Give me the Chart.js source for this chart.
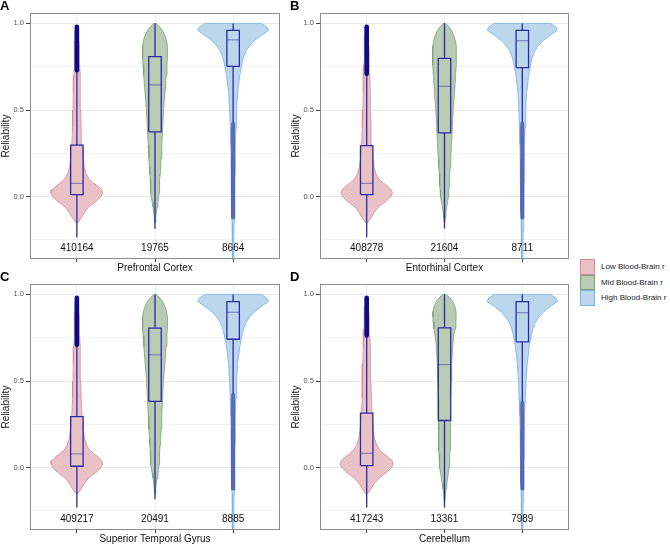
<!DOCTYPE html>
<html>
<head>
<meta charset="utf-8">
<script src="https://cdn.jsdelivr.net/npm/chart.js@4.4.0/dist/chart.umd.min.js"></script>
<style>
  body { margin: 0; background: #fff; width: 670px; height: 547px; position: relative; overflow: hidden; font-family: "Liberation Sans", Arial, sans-serif; }
  canvas { position: absolute; }
  #legend { position: absolute; left: 580px; top: 259px; width: 90px; }
  .key { display: flex; align-items: center; height: 15.5px; white-space: nowrap; }
  .swatch { flex: none; width: 15px; height: 15.5px; box-sizing: border-box; border: 1px solid; margin-right: 6px; }
  .key span { font-size: 8px; color: #222; }
</style>
</head>
<body>
<canvas id="p0" width="282" height="275" style="left:0;top:0"></canvas>
<canvas id="p1" width="281" height="275" style="left:290px;top:0"></canvas>
<canvas id="p2" width="282" height="275" style="left:0;top:271px"></canvas>
<canvas id="p3" width="281" height="275" style="left:290px;top:271px"></canvas>
<div id="legend"></div>
<script>
// panels: A prefrontal, B entorhinal, C superior temporal, D cerebellum
const panelLetters = ["A", "B", "C", "D"];
const regions = ["Prefrontal Cortex", "Entorhinal Cortex", "Superior Temporal Gyrus", "Cerebellum"];
const groups = ["Low Blood-Brain r", "Mid Blood-Brain r", "High Blood-Brain r"];

// number of probes per group (low, mid, high), one row per panel
const counts = [
  [410164, 19765, 8664],
  [408278, 21604, 8711],
  [409217, 20491, 8885],
  [417243, 13361, 7989]
];

// boxplot stats, one row per panel, (low, mid, high)
const q1 = [[0.012, 0.374, 0.752], [0.012, 0.368, 0.745], [0.008, 0.382, 0.741], [0.012, 0.272, 0.726]];
const median = [[0.077, 0.645, 0.905], [0.077, 0.637, 0.900], [0.079, 0.651, 0.897], [0.083, 0.595, 0.894]];
const q3 = [[0.297, 0.808, 0.960], [0.294, 0.798, 0.960], [0.295, 0.805, 0.958], [0.315, 0.807, 0.958]];
const whiskerLow = [[-0.235, -0.186, 0.43], [-0.235, -0.184, 0.43], [-0.23, -0.183, 0.43], [-0.23, -0.23, 0.38]];
const whiskerHigh = [[0.73, 1.0, 1.0], [0.71, 1.0, 1.0], [0.71, 1.0, 1.0], [0.763, 1.0, 1.0]];
const outlierFrom = [[0.73, null, -0.12], [0.71, null, -0.12], [0.71, null, -0.12], [0.763, null, -0.12]];
const outlierTo = [[0.98, null, 0.42], [0.98, null, 0.42], [0.98, null, 0.42], [0.98, null, 0.373]];

// violin half-widths (in category units) at these reliability levels
const levels = [-0.40, -0.30, -0.20, -0.15, -0.12, -0.09, -0.06, -0.03, 0.00, 0.02, 0.04, 0.06, 0.08, 0.10, 0.13, 0.17,
  0.22, 0.30, 0.40, 0.50, 0.60, 0.70, 0.76, 0.80, 0.84, 0.87, 0.90, 0.93, 0.96, 0.98, 1.00];

const violinLow = [
  [null, null, null, 0.015, 0.06, 0.10, 0.15, 0.24, 0.31, 0.33, 0.32, 0.27, 0.21, 0.16, 0.12, 0.095, 0.08, 0.065, 0.055, 0.05, 0.045, 0.04, 0.035, 0.032, 0.03, 0.028, 0.025, 0.022, 0.018, 0.01, null],
  [null, null, null, 0.015, 0.06, 0.10, 0.15, 0.24, 0.31, 0.33, 0.315, 0.27, 0.21, 0.16, 0.12, 0.095, 0.08, 0.066, 0.056, 0.05, 0.046, 0.04, 0.036, 0.033, 0.03, 0.028, 0.025, 0.022, 0.018, 0.01, null],
  [null, null, null, 0.015, 0.06, 0.10, 0.15, 0.24, 0.31, 0.33, 0.32, 0.28, 0.22, 0.165, 0.125, 0.098, 0.082, 0.066, 0.055, 0.05, 0.045, 0.04, 0.035, 0.032, 0.03, 0.028, 0.025, 0.022, 0.018, 0.01, null],
  [null, null, null, 0.015, 0.06, 0.10, 0.16, 0.25, 0.32, 0.34, 0.33, 0.28, 0.22, 0.17, 0.13, 0.10, 0.085, 0.07, 0.06, 0.055, 0.05, 0.045, 0.04, 0.036, 0.033, 0.03, 0.027, 0.023, 0.019, 0.01, null]
];
const violinMid = [
  [null, null, null, 0.005, 0.01, 0.018, 0.026, 0.038, 0.048, 0.052, 0.055, 0.058, 0.06, 0.062, 0.066, 0.072, 0.078, 0.087, 0.098, 0.11, 0.128, 0.145, 0.153, 0.158, 0.16, 0.158, 0.148, 0.128, 0.095, 0.06, 0.015],
  [null, null, null, 0.005, 0.01, 0.018, 0.027, 0.04, 0.05, 0.054, 0.057, 0.06, 0.062, 0.064, 0.068, 0.074, 0.08, 0.089, 0.10, 0.112, 0.128, 0.143, 0.15, 0.153, 0.153, 0.15, 0.14, 0.12, 0.09, 0.058, 0.015],
  [null, null, null, 0.005, 0.01, 0.018, 0.026, 0.038, 0.048, 0.052, 0.055, 0.058, 0.06, 0.062, 0.066, 0.072, 0.078, 0.086, 0.097, 0.108, 0.126, 0.143, 0.152, 0.157, 0.16, 0.158, 0.148, 0.128, 0.095, 0.06, 0.015],
  [null, null, 0.004, 0.012, 0.02, 0.03, 0.04, 0.05, 0.058, 0.062, 0.065, 0.068, 0.07, 0.072, 0.074, 0.075, 0.076, 0.078, 0.082, 0.086, 0.092, 0.105, 0.12, 0.135, 0.146, 0.15, 0.148, 0.135, 0.105, 0.07, 0.02]
];
const violinHigh = [
  [0.006, 0.008, 0.011, 0.013, 0.015, 0.017, 0.018, 0.019, 0.02, 0.02, 0.021, 0.021, 0.022, 0.023, 0.024, 0.025, 0.027, 0.03, 0.037, 0.045, 0.058, 0.085, 0.11, 0.13, 0.165, 0.21, 0.27, 0.36, 0.455, 0.43, 0.36],
  [0.006, 0.008, 0.011, 0.013, 0.015, 0.017, 0.018, 0.019, 0.02, 0.02, 0.021, 0.021, 0.022, 0.023, 0.024, 0.025, 0.027, 0.03, 0.036, 0.044, 0.056, 0.082, 0.106, 0.126, 0.16, 0.205, 0.265, 0.355, 0.45, 0.43, 0.36],
  [0.006, 0.008, 0.011, 0.013, 0.015, 0.017, 0.018, 0.019, 0.02, 0.02, 0.021, 0.021, 0.022, 0.023, 0.024, 0.025, 0.027, 0.03, 0.037, 0.045, 0.058, 0.086, 0.112, 0.132, 0.168, 0.212, 0.272, 0.36, 0.455, 0.43, 0.36],
  [0.006, 0.008, 0.011, 0.013, 0.015, 0.017, 0.018, 0.019, 0.02, 0.02, 0.021, 0.022, 0.022, 0.023, 0.024, 0.026, 0.028, 0.032, 0.04, 0.05, 0.064, 0.09, 0.115, 0.135, 0.17, 0.215, 0.275, 0.36, 0.455, 0.43, 0.36]
];
const violinWidths = [violinLow, violinMid, violinHigh];

const yTicks = [-0.25, 0, 0.25, 0.5, 0.75, 1];
const yLabelled = [0, 0.5, 1];
const countY = -0.3;

const fillColors = ["#e8c2c7", "#b8ccb4", "#bcd7ec"];
const edgeColors = ["#d58b95", "#79a275", "#76b3e2"];
const boxColor = "#2b2ba6";
const boxHalf = 0.08;

Chart.defaults.font.family = '"Liberation Sans", Arial, sans-serif';

const panelFrame = {
  id: "panelFrame",
  afterDatasetsDraw(chart) {
    const { ctx, chartArea: a } = chart;
    ctx.save();
    ctx.strokeStyle = "#8c8c8c";
    ctx.lineWidth = 1;
    ctx.strokeRect(Math.round(a.left) + 0.5, Math.round(a.top) + 0.5, Math.round(a.right - a.left) - 1, Math.round(a.bottom - a.top) - 1);
    ctx.restore();
  }
};

const countLabels = {
  id: "countLabels",
  afterDatasetsDraw(chart, args, opts) {
    const { ctx, scales: { x, y } } = chart;
    ctx.save();
    ctx.font = '10px "Liberation Sans", Arial, sans-serif';
    ctx.fillStyle = "#111";
    ctx.textAlign = "center";
    ctx.textBaseline = "middle";
    opts.values.forEach((v, i) => ctx.fillText(String(v), x.getPixelForValue(i + 1), y.getPixelForValue(countY)));
    ctx.restore();
  }
};

function line(data, color, width, order, extra) {
  return Object.assign({ data: data, borderColor: color, borderWidth: width, fill: false, pointRadius: 0, order: order }, extra || {});
}

function makePanel(p) {
  const datasets = [];
  for (let g = 0; g < 3; g++) {
    const c = g + 1;
    const w = violinWidths[g][p];
    const right = [], left = [];
    levels.forEach((lv, i) => {
      if (w[i] === null) return;
      right.push({ x: c + w[i], y: lv });
      left.unshift({ x: c - w[i], y: lv });
    });
    datasets.push(line(right.concat(left, [right[0]]), edgeColors[g], 0.8, 6,
      { fill: "shape", backgroundColor: fillColors[g] }));

    datasets.push(line([{ x: c, y: whiskerLow[p][g] }, { x: c, y: q1[p][g] }], boxColor, 1.3, 4));
    datasets.push(line([{ x: c, y: q3[p][g] }, { x: c, y: whiskerHigh[p][g] }], boxColor, 1.3, 4));
    datasets.push(line([
      { x: c - boxHalf, y: q1[p][g] }, { x: c + boxHalf, y: q1[p][g] },
      { x: c + boxHalf, y: q3[p][g] }, { x: c - boxHalf, y: q3[p][g] },
      { x: c - boxHalf, y: q1[p][g] }
    ], boxColor, 1.3, 3));
    datasets.push(line([{ x: c - boxHalf, y: median[p][g] }, { x: c + boxHalf, y: median[p][g] }], "#5a5aaa", 0.8, 3));

    if (outlierFrom[p][g] !== null) {
      const dense = g === 0;
      datasets.push(line([{ x: c, y: outlierFrom[p][g] }, { x: c, y: outlierTo[p][g] }],
        dense ? "#0c0c86" : "rgba(32,32,150,0.6)", dense ? 4.6 : 4, 2, { borderCapStyle: "round" }));
    }
  }

  new Chart(document.getElementById("p" + p), {
    type: "line",
    data: { datasets: datasets },
    plugins: [panelFrame, countLabels],
    options: {
      responsive: false,
      animation: false,
      events: [],
      layout: { padding: { left: 0, right: 2, top: 0, bottom: 0 } },
      plugins: {
        legend: { display: false },
        tooltip: { enabled: false },
        title: {
          display: true, text: panelLetters[p], align: "start", color: "#000",
          font: { size: 13, weight: "bold", lineHeight: 1.0 }, padding: { top: 0, bottom: 0 }
        },
        countLabels: { values: counts[p] }
      },
      scales: {
        x: {
          type: "linear", min: 0.4, max: 3.6,
          afterBuildTicks: s => { s.ticks = [1, 2, 3].map(v => ({ value: v })); },
          afterFit: s => { s.height = 16; },
          ticks: { callback: () => "", padding: 0, autoSkip: false },
          grid: { color: "#ececec", lineWidth: 1, tickLength: 3, tickColor: "#444" },
          border: { display: false },
          title: { display: true, text: regions[p], color: "#111", font: { size: 10 }, padding: { top: 0, bottom: 1 } }
        },
        y: {
          type: "linear", min: -0.36, max: 1.06,
          afterBuildTicks: s => { s.ticks = yTicks.map(v => ({ value: v })); },
          afterFit: s => { s.width = 30; },
          ticks: {
            callback: v => (yLabelled.includes(v) ? v.toFixed(1) : ""),
            color: "#555", font: { size: 7.5 }, padding: 2, autoSkip: false
          },
          grid: {
            color: ctx => (ctx.tick && yLabelled.includes(ctx.tick.value) ? "#e8e8e8" : "#f3f3f3"),
            tickLength: 4,
            tickColor: ctx => (ctx.tick && yLabelled.includes(ctx.tick.value) ? "#444" : "rgba(0,0,0,0)")
          },
          border: { display: false },
          title: { display: true, text: "Reliability", color: "#111", font: { size: 10 }, padding: { top: 0, bottom: 0 } }
        }
      }
    }
  });
}

for (let p = 0; p < 4; p++) makePanel(p);

const legend = document.getElementById("legend");
groups.forEach((name, g) => {
  const row = document.createElement("div");
  row.className = "key";
  const sw = document.createElement("div");
  sw.className = "swatch";
  sw.style.background = fillColors[g];
  sw.style.borderColor = edgeColors[g];
  const label = document.createElement("span");
  label.textContent = name;
  row.appendChild(sw);
  row.appendChild(label);
  legend.appendChild(row);
});
</script>
</body>
</html>
